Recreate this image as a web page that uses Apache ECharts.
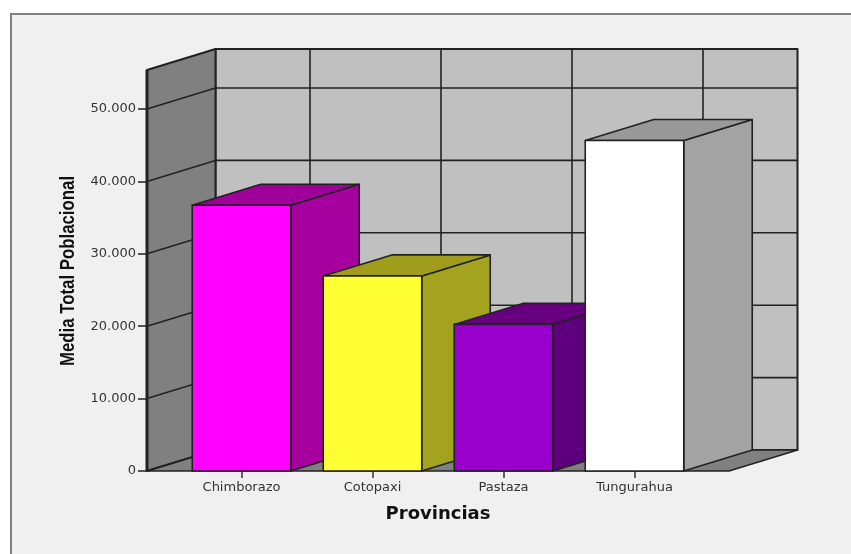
<!DOCTYPE html>
<html>
<head>
<meta charset="utf-8">
<style>html,body{margin:0;padding:0;background:#fff}#c{width:851px;height:554px}</style>
<script src="https://cdn.jsdelivr.net/npm/echarts@6/dist/echarts.min.js"></script>
</head>
<body>
<div id="c"></div>
<script>
// Average population per province
const categories = ['Chimborazo', 'Cotopaxi', 'Pastaza', 'Tungurahua'];
const values = [36700, 26950, 20250, 45650];
const yTicks = [0, 10000, 20000, 30000, 40000, 50000];
const yMax = 55390;
const yTitle = 'Media Total Poblacional';

// Face colours of each box: front, side, top
const frontColors = ['#ff00ff', '#ffff33', '#9900cc', '#ffffff'];
const sideColors = ['#a6009f', '#a3a31f', '#5e007e', '#a3a3a3'];
const topColors = ['#a0009a', '#a09c1c', '#66007e', '#999999'];

// Oblique projection used for depth, and the frame padding beside the bands
const DX = 68.5, DY = -21;
const PAD = 29;
const BAR_RATIO = 0.752;
const EDGE = '#222222';

function poly(points, fill, width) {
  return {
    type: 'polygon',
    shape: { points },
    style: { fill, stroke: EDGE, lineWidth: width === undefined ? 1.6 : width, lineJoin: 'round' }
  };
}
function seg(x1, y1, x2, y2, width) {
  return {
    type: 'line',
    shape: { x1, y1, x2, y2 },
    style: { stroke: EDGE, lineWidth: width, fill: null }
  };
}

// Back wall, left wall, floor and their grid lines
function renderWalls(params, api) {
  const cs = params.coordSys;
  const left = cs.x - PAD, right = cs.x + cs.width + PAD;
  const top = cs.y, base = cs.y + cs.height;
  const kids = [
    poly([[left + DX, top + DY], [right + DX, top + DY], [right + DX, base + DY], [left + DX, base + DY]], '#c0c0c0', 2),
    poly([[left, top], [left + DX, top + DY], [left + DX, base + DY], [left, base]], '#808080', 2),
    poly([[left, base], [left + DX, base + DY], [right + DX, base + DY], [right, base]], '#808080', 1.6)
  ];
  yTicks.forEach(function (t) {
    const y = api.coord([0, t])[1];
    kids.push(seg(left, y, left + DX, y + DY, 1.6));
    if (t > 0) kids.push(seg(left + DX, y + DY, right + DX, y + DY, 1.6));
  });
  categories.forEach(function (c, i) {
    const x = api.coord([i, 0])[0];
    kids.push(seg(x + DX, top + DY, x + DX, base + DY, 1.6));
  });
  kids.push(seg(left, top, left, base, 3));
  return { type: 'group', children: kids };
}

// One oblique box per category
function renderBox(params, api) {
  const i = api.value(0);
  const p0 = api.coord([i, 0]);
  const p1 = api.coord([i, api.value(1)]);
  const w = api.size([1, 0])[0] * BAR_RATIO;
  const x0 = p0[0] - w / 2, x1 = p0[0] + w / 2;
  const yb = p0[1], yt = p1[1];
  return {
    type: 'group',
    children: [
      poly([[x1, yb], [x1 + DX, yb + DY], [x1 + DX, yt + DY], [x1, yt]], sideColors[i]),
      poly([[x0, yt], [x0 + DX, yt + DY], [x1 + DX, yt + DY], [x1, yt]], topColors[i]),
      poly([[x0, yb], [x0, yt], [x1, yt], [x1, yb]], frontColors[i])
    ]
  };
}

const chart = echarts.init(document.getElementById('c'), null, { renderer: 'canvas' });
chart.setOption({
  animation: false,
  backgroundColor: '#ffffff',
  graphic: [{
    type: 'rect',
    silent: true,
    z: -1,
    shape: { x: 11, y: 14, width: 900, height: 600 },
    style: { fill: '#f0f0f0', stroke: '#808080', lineWidth: 2 }
  }, {
    // Condensed vertical axis title
    type: 'text',
    silent: true,
    x: 68,
    y: 271,
    rotation: Math.PI / 2,
    scaleX: 0.84,
    style: {
      text: yTitle,
      fill: '#111',
      font: 'bold 20px "Liberation Sans"',
      textAlign: 'center',
      textVerticalAlign: 'middle'
    }
  }],
  grid: { left: 176, width: 524, top: 70, bottom: 83, containLabel: false },
  xAxis: {
    type: 'category',
    data: categories,
    axisLine: { show: false },
    axisTick: { show: true, alignWithLabel: true, length: 7, lineStyle: { color: '#333', width: 1.5 } },
    axisLabel: { color: '#333', fontFamily: 'DejaVu Sans', fontSize: 13, margin: 10 },
    name: 'Provincias',
    nameLocation: 'middle',
    nameGap: 34,
    nameTextStyle: { color: '#111', fontFamily: 'DejaVu Sans', fontWeight: 'bold', fontSize: 18 }
  },
  yAxis: {
    type: 'value',
    min: 0,
    max: yMax,
    offset: PAD,
    splitLine: { show: false },
    axisLine: { show: false },
    axisTick: { show: true, customValues: yTicks, length: 9, lineStyle: { color: '#222', width: 1.5 } },
    axisLabel: {
      customValues: yTicks,
      color: '#333',
      fontFamily: 'DejaVu Sans',
      fontSize: 13,
      margin: 11,
      padding: [6, 0, 0, 0],
      formatter: function (v) { return String(v).replace(/\B(?=(\d{3})+$)/g, '.'); }
    }
  },
  series: [
    { type: 'custom', silent: true, z: 1, clip: false, renderItem: renderWalls, data: [[0, 0]], encode: { x: 0, y: 1 } },
    {
      type: 'custom', silent: true, z: 2, clip: false, renderItem: renderBox,
      data: categories.map(function (c, i) { return [i, values[i]]; }),
      encode: { x: 0, y: 1 }
    }
  ]
});
</script>
</body>
</html>
